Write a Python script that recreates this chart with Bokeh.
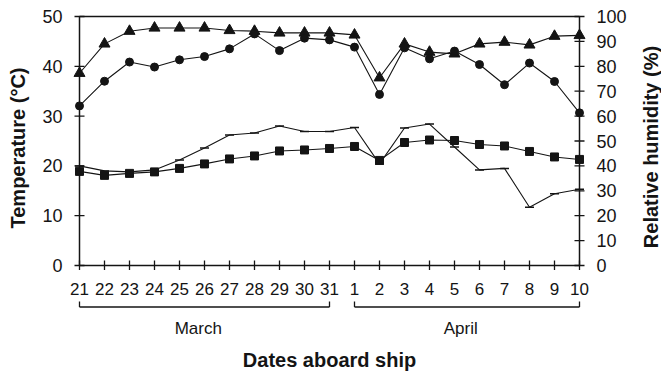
import math
from bokeh.plotting import figure
from bokeh.layouts import row, column
from bokeh.models import Range1d, LinearAxis, FixedTicker, ColumnDataSource
from bokeh.core.properties import value
from bokeh.embed import file_html
from bokeh.resources import INLINE

# ---- data ----
days = ["21", "22", "23", "24", "25", "26", "27", "28", "29", "30", "31",
        "1", "2", "3", "4", "5", "6", "7", "8", "9", "10"]
temp_square = [18.9, 18.1, 18.5, 18.8, 19.5, 20.4, 21.4, 22.0, 23.0, 23.2, 23.5,
               23.9, 21.1, 24.7, 25.2, 25.1, 24.3, 24.0, 22.9, 21.8, 21.3]
temp_dash = [20.0, 19.0, 18.8, 19.2, 21.2, 23.6, 26.2, 26.6, 28.0, 26.9, 26.9,
             27.7, 20.4, 27.6, 28.4, 23.8, 19.2, 19.5, 11.7, 14.4, 15.3]
rh_triangle = [77.2, 89.0, 94.1, 95.4, 95.4, 95.4, 94.4, 94.1, 93.4, 93.4, 93.4,
               92.6, 75.4, 89.0, 85.7, 85.0, 89.0, 89.7, 88.6, 92.1, 92.4]
rh_circle = [64.1, 74.0, 81.7, 79.7, 82.6, 83.9, 87.0, 93.0, 86.3, 91.3, 90.6,
             87.7, 68.7, 87.4, 83.0, 86.1, 80.7, 72.6, 81.3, 73.9, 61.3]
temp_ticks = [0, 10, 20, 30, 40, 50]
rh_ticks = [0, 10, 20, 30, 40, 50, 60, 70, 80, 90, 100]
months = ["March", "April"]
month_first = [0, 11]   # index of first day of each month
month_last = [10, 20]   # index of last day of each month
x_title = "Dates aboard ship"
y_title = "Temperature (°C)"
y2_title = "Relative humidity (%)"

INK = "#141414"
FONT = value("Liberation Sans")
x = list(range(len(days)))
n = len(days) - 1
tmax = temp_ticks[-1]
hmax = rh_ticks[-1]

H = 371
LEFT_W, RIGHT_W = 30, 25
MAIN_W = 661 - LEFT_W - RIGHT_W
MAIN_H, BOT_H = 301, 70

x_range = Range1d(-0.4, n + 0.4)


def bare(width, height, xr, yr):
    f = figure(width=width, height=height, x_range=xr, y_range=yr,
               output_backend="svg", toolbar_location=None,
               x_axis_type=None, y_axis_type=None,
               min_border_left=0, min_border_right=0,
               min_border_top=0, min_border_bottom=0)
    f.outline_line_color = None
    f.background_fill_color = "white"
    f.border_fill_color = "white"
    return f


# ---- main chart ----
p = figure(width=MAIN_W, height=MAIN_H,
           x_range=x_range, y_range=Range1d(-1, tmax + 1),
           output_backend="svg", toolbar_location=None,
           x_axis_type=None, y_axis_type=None,
           min_border_left=39, min_border_right=47,
           min_border_top=11, min_border_bottom=31)
p.extra_y_ranges = {"rh": Range1d(-2, hmax + 2)}
p.outline_line_color = None
p.background_fill_color = "white"
p.border_fill_color = "white"

common = dict(axis_line_color=None, major_tick_line_color=None,
              minor_tick_line_color=None, major_tick_in=0, major_tick_out=0,
              major_label_text_font="Liberation Sans",
              major_label_text_color=INK)

xaxis = LinearAxis(ticker=FixedTicker(ticks=x),
                   major_label_overrides={i: d for i, d in enumerate(days)},
                   major_label_standoff=12, major_label_text_font_size="17px",
                   **common)
p.add_layout(xaxis, "below")

yaxis = LinearAxis(ticker=FixedTicker(ticks=temp_ticks), major_label_standoff=7,
                   major_label_text_font_size="18px", **common)
p.add_layout(yaxis, "left")

y2axis = LinearAxis(y_range_name="rh", ticker=FixedTicker(ticks=rh_ticks),
                    major_label_standoff=7, major_label_text_font_size="18px",
                    **common)
p.add_layout(y2axis, "right")

# frame lines and tick marks
frame = ColumnDataSource(dict(x0=[0, n, 0, 0], y0=[0, 0, 0, tmax],
                              x1=[0, n, n, n], y1=[tmax, tmax, 0, tmax]))
p.segment("x0", "y0", "x1", "y1", source=frame, line_color=INK, line_width=1.5)
p.segment(x0=[-0.2] * len(temp_ticks), y0=temp_ticks, x1=[0.2] * len(temp_ticks),
          y1=temp_ticks, line_color=INK, line_width=1.3)
p.segment(x0=[n - 0.2] * len(rh_ticks), y0=rh_ticks, x1=[n + 0.2] * len(rh_ticks),
          y1=rh_ticks, y_range_name="rh", line_color=INK, line_width=1.3)
p.segment(x0=x, y0=[-0.9] * len(x), x1=x, y1=[1.0] * len(x),
          line_color=INK, line_width=1.3)

# series
p.line(x, temp_dash, line_color=INK, line_width=1.1)
p.scatter(x, temp_dash, marker="dash", size=9, line_color=INK, line_width=1.5)
p.line(x, temp_square, line_color=INK, line_width=1.1)
p.scatter(x, temp_square, marker="square", size=8, color=INK)
p.line(x, rh_triangle, y_range_name="rh", line_color=INK, line_width=1.1)
p.scatter(x, rh_triangle, y_range_name="rh", marker="triangle", size=11, color=INK)
p.line(x, rh_circle, y_range_name="rh", line_color=INK, line_width=1.1)
p.scatter(x, rh_circle, y_range_name="rh", marker="circle", size=8, color=INK)

# ---- bottom strip: month brackets, month names, x title ----
b = figure(width=MAIN_W, height=BOT_H, x_range=x_range, y_range=Range1d(0, BOT_H),
           output_backend="svg", toolbar_location=None,
           x_axis_type=None, y_axis_type=None,
           min_border_left=39, min_border_right=47,
           min_border_top=0, min_border_bottom=0)
b.outline_line_color = None
b.background_fill_color = "white"
b.border_fill_color = "white"
yb, yt = 64.5, 70.5
bx0, by0, bx1, by1 = [], [], [], []
for a, c in zip(month_first, month_last):
    bx0 += [a, a, c]; by0 += [yb, yb, yb]
    bx1 += [c, a, c]; by1 += [yb, yt, yt]
b.segment(x0=bx0, y0=by0, x1=bx1, y1=by1, line_color=INK, line_width=1.3)
b.text(x=[(a + c) / 2 - 0.25 for a, c in zip(month_first, month_last)],
       y=[43] * len(months), text=months, text_align="center",
       text_baseline="alphabetic", text_font=FONT, text_font_size="17px",
       text_color=INK)
b.text(x=[n / 2], y=[12], text=[x_title], text_align="center",
       text_baseline="alphabetic", text_font=FONT, text_font_size="20px",
       text_font_style="bold", text_color=INK)

# ---- side strips: rotated axis titles ----
lf = bare(LEFT_W, H, Range1d(0, LEFT_W), Range1d(0, H))
lf.text(x=[17], y=[H - 147.5], text=[y_title], angle=math.pi / 2,
        text_align="center", text_baseline="middle", text_font=FONT,
        text_font_size="20px", text_font_style="bold", text_color=INK)
rf = bare(RIGHT_W, H, Range1d(0, RIGHT_W), Range1d(0, H))
rf.text(x=[650 - (661 - RIGHT_W)], y=[H - 146.5], text=[y2_title], angle=math.pi / 2,
        text_align="center", text_baseline="middle", text_font=FONT,
        text_font_size="20px", text_font_style="bold", text_color=INK)

layout = row(lf, column(p, b), rf)
open("out.html", "w").write(file_html(layout, INLINE))
